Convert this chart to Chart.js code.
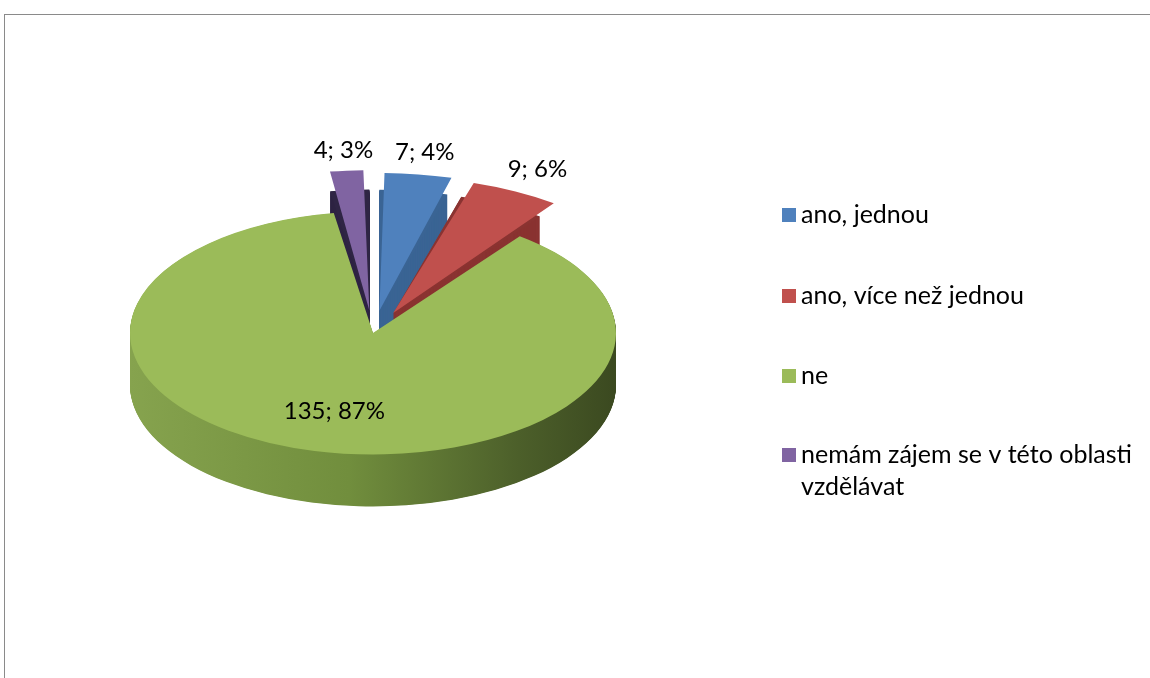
<!DOCTYPE html>
<html>
<head>
<meta charset="utf-8">
<script src="https://cdn.jsdelivr.net/npm/chart.js@4/dist/chart.umd.min.js"></script>
<style>
  html, body { margin: 0; padding: 0; background: #fff; }
  #wrap { position: relative; width: 1150px; height: 678px; overflow: hidden; }
  #frame { position: absolute; left: 4px; top: 14px; width: 1200px; height: 720px; border: 1px solid #8a8a8a; box-sizing: border-box; }
  canvas { position: absolute; left: 0; top: 0; }
</style>
</head>
<body>
<div id="wrap">
  <div id="frame"></div>
  <canvas id="chart" width="1150" height="678"></canvas>
</div>
<script>
const categories = ['ano, jednou', 'ano, více než jednou', 'ne', 'nemám zájem se v této oblasti vzdělávat'];
const counts = [7, 9, 135, 4];
const percents = [4, 6, 87, 3];
const colors = ['#4f81bd', '#c0504d', '#9bbb59', '#8064a2'];
const sideColors = ['#3a6494', '#8a3331', '#6f8c3c', '#2f2544'];
const offsets = [180, 180, 0, 180];

const tilt = 0.5;      // vertical squash of the pie
const depth = 52;      // visible thickness in px
const labelFont = '24px Lato';
const legendFont = '25px Lato';

function wedgePath(ctx, el, dy) {
  const p = el.getProps(['x', 'y', 'startAngle', 'endAngle', 'outerRadius']);
  const off = (el.options.offset || 0) / 4;
  const mid = (p.startAngle + p.endAngle) / 2;
  const cx = p.x + Math.cos(mid) * off;
  const cy = p.y + Math.sin(mid) * off + dy;
  ctx.beginPath();
  ctx.moveTo(cx, cy);
  ctx.arc(cx, cy, p.outerRadius, p.startAngle, p.endAngle);
  ctx.closePath();
}

const pie3d = {
  id: 'pie3d',
  beforeDatasetsDraw(chart) {
    const ctx = chart.ctx;
    const meta = chart.getDatasetMeta(0);
    const cx = meta.data[0].x, cy = meta.data[0].y, r = meta.data[0].outerRadius;
    ctx.save();
    ctx.translate(cx, cy);
    ctx.scale(1, tilt);
    ctx.translate(-cx, -cy);
    // sides: front slice first, then the exploded back slices
    [2, 0, 1, 3].forEach(i => {
      const el = meta.data[i];
      let fill = sideColors[i];
      if (i === 2) {
        const g = ctx.createLinearGradient(cx - r, 0, cx + r, 0);
        g.addColorStop(0, '#86a34e');
        g.addColorStop(0.45, '#718e3d');
        g.addColorStop(0.8, '#4c5f2a');
        g.addColorStop(1, '#3b4920');
        fill = g;
      }
      ctx.fillStyle = fill;
      for (let d = depth / tilt; d > 0; d -= 1) {
        wedgePath(ctx, el, d);
        ctx.fill();
      }
    });
  },
  afterDatasetsDraw(chart) {
    chart.ctx.restore();
  }
};

const sliceLabels = {
  id: 'sliceLabels',
  afterDraw(chart) {
    const ctx = chart.ctx;
    const meta = chart.getDatasetMeta(0);
    const total = counts.reduce((a, b) => a + b, 0);
    ctx.save();
    ctx.font = labelFont;
    ctx.fillStyle = '#000';
    ctx.textAlign = 'center';
    ctx.textBaseline = 'middle';
    meta.data.forEach((el, i) => {
      const p = el.getProps(['x', 'y', 'startAngle', 'endAngle', 'outerRadius']);
      const mid = (p.startAngle + p.endAngle) / 2;
      const off = (el.options.offset || 0) / 4;
      const big = counts[i] / total > 0.5;
      const rr = big ? p.outerRadius * 0.66 : p.outerRadius * 1.32 + off;
      const x = p.x + Math.cos(mid) * rr;
      const y = p.y + Math.sin(mid) * rr * tilt;
      ctx.fillText(counts[i] + '; ' + percents[i] + '%', x, y);
    });
    ctx.restore();
  }
};

const sideLegend = {
  id: 'sideLegend',
  afterDraw(chart) {
    const ctx = chart.ctx;
    const boxX = 782, textX = 801, maxW = 345, lineH = 32;
    const rowY = [215, 296, 376, 455];
    ctx.save();
    ctx.font = legendFont;
    ctx.textBaseline = 'middle';
    ctx.textAlign = 'left';
    categories.forEach((c, i) => {
      ctx.fillStyle = colors[i];
      ctx.fillRect(boxX, rowY[i] - 7, 14, 14);
      ctx.fillStyle = '#000';
      const words = c.split(' ');
      let line = '', y = rowY[i];
      words.forEach(w => {
        const test = line ? line + ' ' + w : w;
        if (ctx.measureText(test).width > maxW && line) {
          ctx.fillText(line, textX, y);
          line = w;
          y += lineH;
        } else {
          line = test;
        }
      });
      ctx.fillText(line, textX, y);
    });
    ctx.restore();
  }
};

new Chart(document.getElementById('chart'), {
  type: 'pie',
  data: {
    labels: categories,
    datasets: [{
      data: counts,
      backgroundColor: colors,
      borderWidth: 0,
      offset: offsets,
      radius: 243
    }]
  },
  options: {
    responsive: false,
    animation: false,
    events: [],
    layout: { padding: { left: 0, top: 0, right: 404, bottom: 12 } },
    plugins: {
      legend: { display: false },
      tooltip: { enabled: false }
    }
  },
  plugins: [pie3d, sliceLabels, sideLegend]
});
</script>
</body>
</html>
